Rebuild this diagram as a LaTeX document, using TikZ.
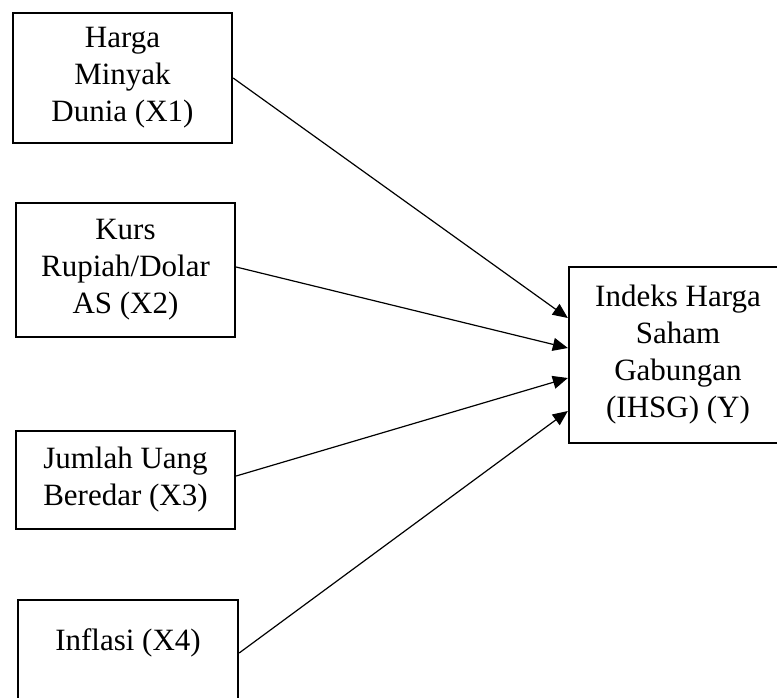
\documentclass[tikz,border=0pt]{standalone}
\usepackage{fontspec}
\setmainfont{Liberation Serif}
\usetikzlibrary{arrows.meta}
\begin{document}
\begin{tikzpicture}[x=1pt,y=-1pt,
  box/.style={draw, line width=2.3pt, align=center, inner sep=0pt,
    font=\fontsize{31}{37}\selectfont},
  link/.style={line width=1.2pt, -{Triangle[length=15pt,width=13pt]}}]
\clip (0,0) rectangle (777,697);
\node[box, minimum width=219pt, minimum height=130pt] (x1) at (122.5,78) {Harga\\Minyak\\Dunia (X1)};
\node[box, minimum width=219pt, minimum height=134pt] (x2) at (125.5,270) {Kurs\\Rupiah/Dolar\\AS (X2)};
\node[box, minimum width=219pt, minimum height=98pt] (x3) at (125.5,480) {Jumlah Uang\\Beredar (X3)};
\node[box, minimum width=220pt, minimum height=106pt] (x4) at (128,653) {};
\node[font=\fontsize{31}{37}\selectfont, inner sep=0pt] (x4t) at (128,643) {Inflasi (X4)};
\node[box, minimum width=218pt, minimum height=176pt] (y) at (678,355) {Indeks Harga\\Saham\\Gabungan\\(IHSG) (Y)};
\draw[link] (x1.east) -- ([yshift=37pt]y.west);
\draw[link] ([yshift=3pt]x2.east) -- ([yshift=7pt]y.west);
\draw[link] ([yshift=4pt]x3.east) -- ([yshift=-23pt]y.west);
\draw[link] (x4.east) -- ([yshift=-56pt]y.west);
\end{tikzpicture}
\end{document}
